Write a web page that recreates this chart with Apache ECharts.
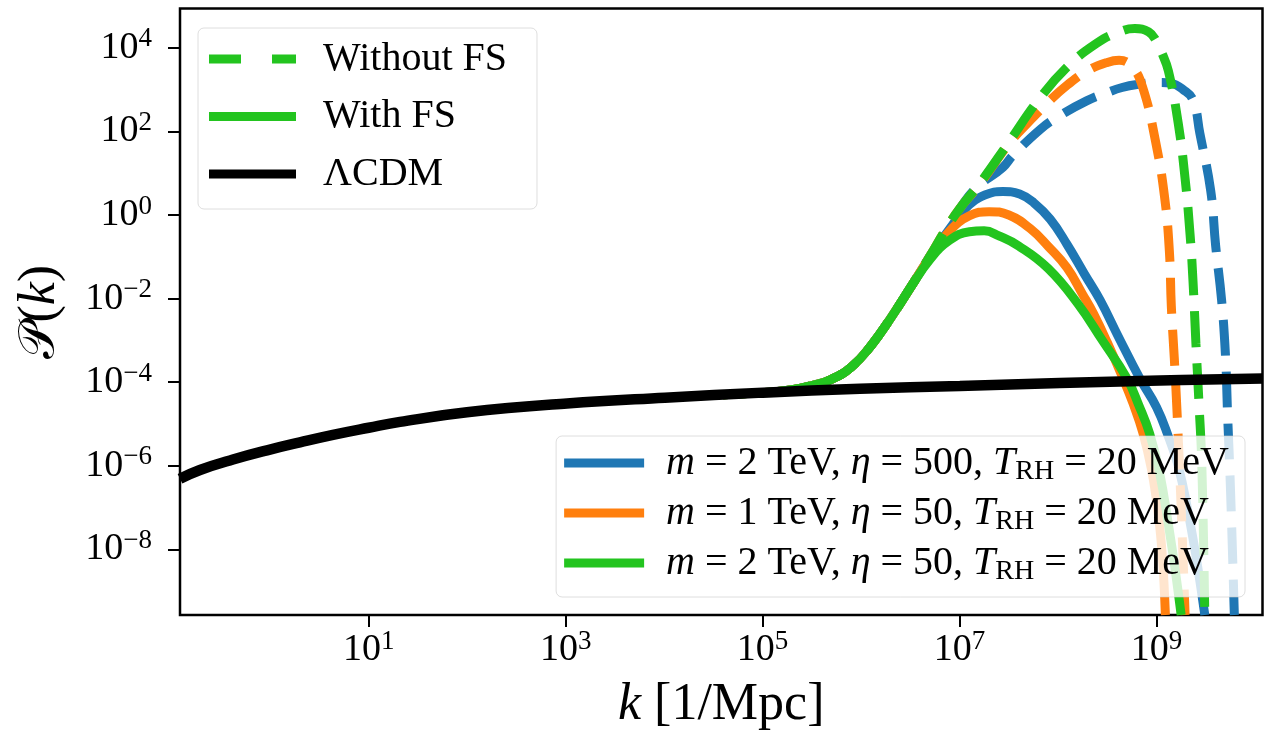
<!DOCTYPE html>
<html><head><meta charset="utf-8">
<script src="https://cdn.jsdelivr.net/npm/echarts@6/dist/echarts.min.js"></script>
<style>html,body{margin:0;padding:0;background:#fff}#c{width:1268px;height:746px}</style>
</head><body><div id="c"></div>
<script>
// ---- axis ranges (decimal exponents) and tick exponents ----
const xRangeExp = [-0.916, 10.076];
const yRangeExp = [-9.57, 4.94];
const xTickExps = [1, 3, 5, 7, 9];
const yTickExps = [-8, -6, -4, -2, 0, 2, 4];

// ---- data: log10(k) and log10(P) ----
const kCDM = [-0.916, -0.713, -0.378, -0.032, 0.302, 0.637, 1.0, 1.318, 1.998, 3.013, 4.008, 5.003, 5.988, 7.003, 8.018, 9.034, 10.076];
const pCDM = [-6.31, -6.1, -5.85, -5.63, -5.44, -5.26, -5.09, -4.95, -4.72, -4.51, -4.37, -4.25, -4.16, -4.09, -4.02, -3.96, -3.91];

// with free streaming (solid)
const kBlueFS = [4.6, 5.0, 5.3, 5.5, 5.7, 5.9, 6.1, 6.3, 6.5, 6.7, 6.9, 7.07, 7.26, 7.44, 7.61, 7.75, 7.92, 8.09, 8.27, 8.43, 8.61, 8.83, 9.0, 9.12, 9.22, 9.32, 9.41, 9.49];
const pBlueFS = [-4.3, -4.25, -4.18, -4.08, -3.93, -3.64, -3.13, -2.47, -1.74, -1.0, -0.33, 0.18, 0.48, 0.56, 0.5, 0.3, -0.1, -0.7, -1.42, -2.05, -2.9, -3.91, -4.6, -5.3, -6.0, -7.1, -8.3, -9.57];
const kOrangeFS = [4.6, 5.0, 5.3, 5.5, 5.7, 5.9, 6.1, 6.3, 6.5, 6.7, 6.9, 7.1, 7.3, 7.5, 7.72, 7.9, 8.09, 8.25, 8.36, 8.5, 8.66, 8.76, 8.86, 8.95, 9.02, 9.06, 9.09];
const pOrangeFS = [-4.3, -4.25, -4.18, -4.08, -3.93, -3.64, -3.13, -2.47, -1.74, -1.0, -0.38, -0.02, 0.08, 0.0, -0.33, -0.75, -1.26, -1.9, -2.36, -3.05, -3.91, -4.5, -5.2, -6.1, -7.2, -8.2, -9.57];
const kGreenFS = [4.6, 5.0, 5.3, 5.5, 5.7, 5.9, 6.1, 6.3, 6.5, 6.7, 6.9, 7.1, 7.25, 7.4, 7.6, 7.9, 8.2, 8.45, 8.70, 8.82, 8.93, 9.03, 9.12, 9.19, 9.25];
const pGreenFS = [-4.3, -4.25, -4.18, -4.08, -3.93, -3.64, -3.13, -2.47, -1.74, -1.06, -0.6, -0.4, -0.38, -0.5, -0.74, -1.28, -2.12, -3.0, -3.91, -4.55, -5.23, -6.15, -7.4, -8.5, -9.57];

// without free streaming (dashed)
const kBlueNoFS = [4.6, 5.0, 5.3, 5.5, 5.7, 5.9, 6.1, 6.3, 6.5, 6.7, 6.9, 7.14, 7.44, 7.54, 7.82, 8.0, 8.29, 8.5, 8.65, 8.8, 9.03, 9.15, 9.27, 9.37, 9.44, 9.55, 9.60, 9.66, 9.70, 9.72, 9.75, 9.79];
const pBlueNoFS = [-4.3, -4.25, -4.18, -4.08, -3.93, -3.64, -3.13, -2.47, -1.74, -0.98, -0.25, 0.58, 1.14, 1.42, 2.05, 2.35, 2.73, 2.93, 3.05, 3.12, 3.17, 3.15, 3.0, 2.75, 1.95, 0.58, -0.73, -2.02, -3.36, -4.68, -6.5, -9.57];
const kOrangeNoFS = [4.6, 5.0, 5.3, 5.5, 5.7, 5.9, 6.1, 6.3, 6.5, 6.7, 6.85, 7.0, 7.2, 7.5, 7.7, 7.9, 8.1, 8.3, 8.5, 8.62, 8.75, 8.86, 8.99, 9.08, 9.13, 9.15, 9.18, 9.21, 9.25, 9.29];
const pOrangeNoFS = [-4.3, -4.25, -4.18, -4.08, -3.93, -3.64, -3.13, -2.47, -1.74, -0.98, -0.38, 0.15, 0.72, 1.70, 2.22, 2.70, 3.12, 3.45, 3.65, 3.70, 3.55, 3.05, 1.76, 0.46, -0.85, -2.17, -3.41, -4.80, -7.0, -9.57];
const kGreenNoFS = [4.6, 5.0, 5.3, 5.5, 5.7, 5.9, 6.1, 6.3, 6.5, 6.7, 6.85, 7.0, 7.2, 7.5, 7.8, 8.1, 8.4, 8.6, 8.78, 8.92, 9.0, 9.05, 9.12, 9.22, 9.29, 9.34, 9.37, 9.40, 9.43, 9.46, 9.49];
const pGreenNoFS = [-4.3, -4.25, -4.18, -4.08, -3.93, -3.64, -3.13, -2.47, -1.74, -0.98, -0.38, 0.15, 0.74, 1.74, 2.75, 3.56, 4.12, 4.36, 4.46, 4.38, 4.15, 3.9, 3.45, 2.2, 0.87, -0.45, -1.57, -3.08, -4.46, -6.0, -9.57];

const labelBlue = 'm = 2 TeV, η = 500, T_RH = 20 MeV';
const labelOrange = 'm = 1 TeV, η = 50, T_RH = 20 MeV';
const labelGreen = 'm = 2 TeV, η = 50, T_RH = 20 MeV';

// ---- styling ----
const BLUE = '#1f77b4', ORANGE = '#ff7f0e', GREEN = '#23c41f', BLACK = '#000000';
const SERIF = "'Liberation Serif', 'DejaVu Serif', serif";
const DASH = [36, 16];
const LW = 9, LW_CDM = 10.5;
const LEG_FS = 40;

const pow10 = e => Math.pow(10, e);
const pairs = (ks, ps) => ks.map((k, i) => [pow10(k), pow10(ps[i])]);
const xTickVals = xTickExps.map(pow10);
const yTickVals = yTickExps.map(pow10);

function powLabel(v) {
  const e = Math.round(Math.log10(v));
  return '{b|10}{s|' + (e < 0 ? '\u2212' + (-e) : e) + '}';
}
const tickRich = {
  b: { fontFamily: SERIF, fontSize: 38, lineHeight: 44, color: '#000' },
  s: { fontFamily: SERIF, fontSize: 27, lineHeight: 26, verticalAlign: 'top', color: '#000' }
};
function richParam(name) {
  const m = name.match(/^m = (\d) TeV, η = (\d+), T_RH = (\d+) MeV$/);
  if (!m) return name;
  return '{i|m} = ' + m[1] + ' TeV, {i|η} = ' + m[2] + ', {i|T}{sub|RH} = ' + m[3] + ' MeV';
}
const legendRich = {
  i: { fontFamily: SERIF, fontStyle: 'italic', fontSize: LEG_FS, lineHeight: 46, color: '#000' },
  sub: { fontFamily: SERIF, fontSize: 28, lineHeight: 28, verticalAlign: 'bottom', color: '#000' }
};

function line(name, data, color, dashed, width) {
  return {
    name, type: 'line', data, symbol: 'none', showSymbol: false,
    smooth: 0.45, clip: true, silent: true,
    color, itemStyle: { color },
    lineStyle: { color, width: width || LW, type: dashed ? DASH : 'solid', cap: 'butt' },
    emphasis: { disabled: true }, animation: false
  };
}

const dashedIcon = 'path://M0 0H32V9H0Z M63 0H87V9H63Z';

const option = {
  animation: false,
  backgroundColor: '#fff',
  grid: { left: 180, top: 8.5, right: 5.5, bottom: 131, show: true, borderColor: '#000', borderWidth: 2.5, backgroundColor: 'transparent' },
  xAxis: {
    type: 'log', logBase: 10, min: pow10(xRangeExp[0]), max: pow10(xRangeExp[1]),
    axisLine: { show: false }, splitLine: { show: false }, minorTick: { show: false },
    axisTick: { show: true, inside: false, length: 12, lineStyle: { width: 2, color: '#000' }, customValues: xTickVals },
    axisLabel: { customValues: xTickVals, formatter: powLabel, margin: 13, rich: tickRich },
    name: '{i|k} [1/Mpc]', nameLocation: 'middle', nameGap: 60,
    nameTextStyle: { fontFamily: SERIF, fontSize: 52, lineHeight: 60, color: '#000',
      rich: { i: { fontFamily: SERIF, fontStyle: 'italic', fontSize: 52, lineHeight: 60, color: '#000' } } }
  },
  yAxis: {
    type: 'log', logBase: 10, min: pow10(yRangeExp[0]), max: pow10(yRangeExp[1]),
    axisLine: { show: false }, splitLine: { show: false }, minorTick: { show: false },
    axisTick: { show: true, inside: false, length: 12, lineStyle: { width: 2, color: '#000' }, customValues: yTickVals },
    axisLabel: { customValues: yTickVals, formatter: powLabel, margin: 28, rich: tickRich },
    name: '{p|𝒫}({i|k})', nameLocation: 'middle', nameGap: 110, nameRotate: 90,
    nameTextStyle: { fontFamily: SERIF, fontSize: 52, lineHeight: 60, color: '#000',
      rich: {
        i: { fontFamily: SERIF, fontStyle: 'italic', fontSize: 52, lineHeight: 60, color: '#000' },
        p: { fontFamily: "'DejaVu Serif','DejaVu Sans', serif", fontSize: 50, lineHeight: 60, color: '#000' }
      } }
  },
  legend: [
    {
      orient: 'vertical', left: 198, top: 28, selectedMode: false,
      data: [{ name: 'Without FS', icon: dashedIcon }, { name: 'With FS', icon: 'rect' }, { name: 'ΛCDM', icon: 'rect' }],
      itemWidth: 87, itemHeight: 9, itemGap: 11.5, padding: [8, 30, 12, 11],
      textStyle: { fontFamily: SERIF, fontSize: LEG_FS, lineHeight: 46, color: '#000', padding: [0, 0, 0, 22] },
      backgroundColor: 'rgba(255,255,255,0.8)', borderColor: 'rgba(200,200,200,0.6)', borderWidth: 1, borderRadius: 6
    },
    {
      orient: 'vertical', right: 23, bottom: 149, selectedMode: false,
      data: [{ name: labelBlue, icon: 'rect' }, { name: labelOrange, icon: 'rect' }, { name: labelGreen, icon: 'rect' }],
      itemWidth: 80, itemHeight: 9, itemGap: 4, padding: [4, 16, 11, 8],
      formatter: richParam,
      textStyle: { fontFamily: SERIF, fontSize: LEG_FS, lineHeight: 46, color: '#000', padding: [0, 0, 0, 17], rich: legendRich },
      backgroundColor: 'rgba(255,255,255,0.8)', borderColor: 'rgba(200,200,200,0.6)', borderWidth: 1, borderRadius: 6
    }
  ],
  series: [
    line(labelBlue + ' (no FS)', pairs(kBlueNoFS, pBlueNoFS), BLUE, true),
    line(labelBlue, pairs(kBlueFS, pBlueFS), BLUE, false),
    line(labelOrange + ' (no FS)', pairs(kOrangeNoFS, pOrangeNoFS), ORANGE, true),
    line(labelOrange, pairs(kOrangeFS, pOrangeFS), ORANGE, false),
    line(labelGreen + ' (no FS)', pairs(kGreenNoFS, pGreenNoFS), GREEN, true),
    line(labelGreen, pairs(kGreenFS, pGreenFS), GREEN, false),
    line('ΛCDM', pairs(kCDM, pCDM), BLACK, false, LW_CDM),
    line('Without FS', [], GREEN, true),
    line('With FS', [], GREEN, false)
  ]
};

const chart = echarts.init(document.getElementById('c'), null, { renderer: 'canvas' });
chart.setOption(option);
</script>
</body></html>
